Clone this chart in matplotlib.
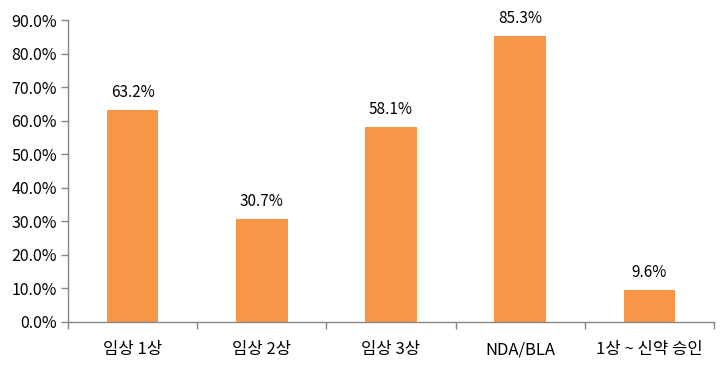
import matplotlib
matplotlib.use("Agg")
import matplotlib.pyplot as plt
from matplotlib.ticker import FuncFormatter, MultipleLocator

plt.rcParams['font.family'] = ['Noto Sans CJK KR', 'DejaVu Sans']

categories = ['임상 1상', '임상 2상', '임상 3상', 'NDA/BLA', '1상 ~ 신약 승인']
values = [63.2, 30.7, 58.1, 85.3, 9.6]

fig = plt.figure(figsize=(7.28, 3.65), dpi=100)
ax = fig.add_axes([0.0934, 0.118, 0.8874, 0.827])

x = list(range(len(categories)))
ax.bar(x, values, width=0.4, color='#F79646', zorder=2)
for xi, v in zip(x, values):
    ax.text(xi, v + 2.6, f'{v:.1f}%', ha='center', va='bottom', fontsize=11, color='#000000')

ax.set_xlim(-0.5, len(categories) - 0.5)
ax.set_ylim(0, 90)
ax.yaxis.set_major_locator(MultipleLocator(10))
ax.yaxis.set_major_formatter(FuncFormatter(lambda v, p: f'{v:.1f}%'))

ax.set_xticks(x)
ax.set_xticklabels(categories, fontsize=12)
ax.set_xticks([i - 0.5 for i in range(len(categories) + 1)], minor=True)
ax.tick_params(axis='x', which='major', length=0, pad=14)
ax.tick_params(axis='x', which='minor', length=5, color='#868686', width=1)
ax.tick_params(axis='y', length=5, color='#868686', width=1, labelsize=11.5, pad=3)

for s in ['top', 'right']:
    ax.spines[s].set_visible(False)
for s in ['left', 'bottom']:
    ax.spines[s].set_color('#868686')
    ax.spines[s].set_linewidth(1)

fig.savefig('out.png', dpi=100)
